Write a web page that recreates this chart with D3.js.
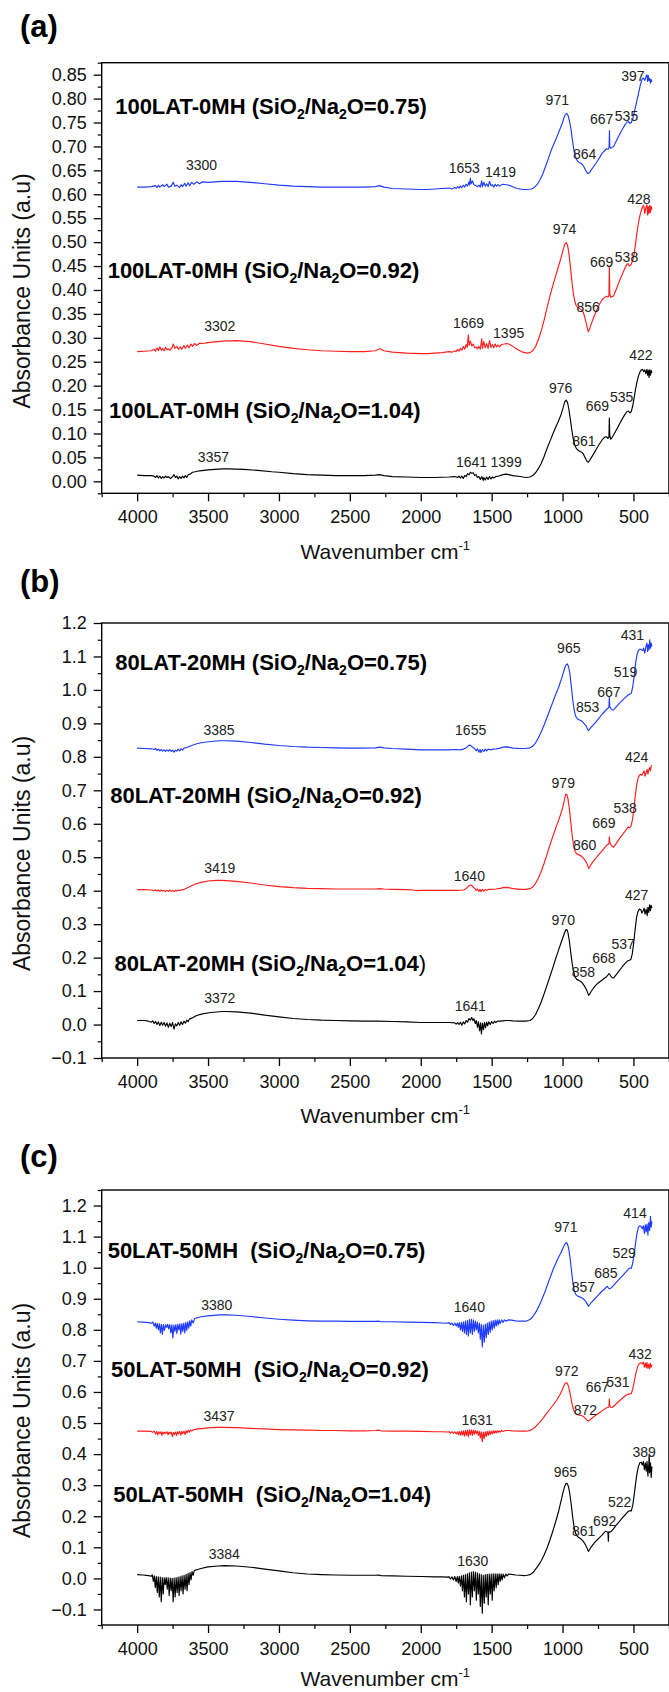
<!DOCTYPE html>
<html><head><meta charset="utf-8">
<script src="https://cdn.jsdelivr.net/npm/d3@7"></script>
<style>body{margin:0;background:#fff}svg{display:block}text{font-family:"Liberation Sans",Arial,sans-serif}</style>
</head><body><svg id="c" width="669" height="1692"></svg>
<script>
// ---------------- DATA ----------------
const xTickLabels = [4000,3500,3000,2500,2000,1500,1000,500];
const yTicksA = [0.00,0.05,0.10,0.15,0.20,0.25,0.30,0.35,0.40,0.45,0.50,0.55,0.60,0.65,0.70,0.75,0.80,0.85];
const yTicksB = [-0.1,0.0,0.1,0.2,0.3,0.4,0.5,0.6,0.7,0.8,0.9,1.0,1.1,1.2];
const yTicksC = [-0.1,0.0,0.1,0.2,0.3,0.4,0.5,0.6,0.7,0.8,0.9,1.0,1.1,1.2];
const panelNames = ["(a)","(b)","(c)"];
const sampleNames = ["100LAT-0MH ","80LAT-20MH ","50LAT-50MH  "];
const ratios = ["0.75","0.92","1.04"];

// Panel (a) spectra [wavenumber, absorbance]
const a075 = [[4000,0.615],[3950,0.615],[3900,0.616],[3870,0.618],[3860,0.614],[3850,0.619],[3840,0.615],[3820,0.620],[3810,0.616],[3790,0.621],[3780,0.615],[3760,0.617],[3745,0.625],[3735,0.617],[3720,0.619],[3700,0.614],[3690,0.620],[3680,0.616],[3665,0.623],[3655,0.617],[3640,0.624],[3630,0.618],[3615,0.625],[3600,0.621],[3580,0.626],[3560,0.622],[3540,0.626],[3500,0.625],[3400,0.627],[3300,0.627],[3200,0.625],[3100,0.622],[3000,0.619],[2900,0.617],[2800,0.616],[2700,0.615],[2600,0.615],[2500,0.615],[2400,0.615],[2320,0.616],[2290,0.618],[2260,0.615],[2200,0.612],[2100,0.611],[2000,0.610],[1950,0.610],[1900,0.611],[1850,0.612],[1800,0.613],[1780,0.611],[1760,0.614],[1750,0.612],[1740,0.616],[1730,0.613],[1720,0.617],[1710,0.614],[1700,0.619],[1690,0.615],[1680,0.621],[1670,0.617],[1660,0.626],[1655,0.619],[1650,0.634],[1645,0.622],[1635,0.628],[1625,0.620],[1610,0.618],[1600,0.616],[1590,0.619],[1580,0.615],[1570,0.628],[1565,0.616],[1555,0.625],[1545,0.617],[1535,0.622],[1525,0.616],[1515,0.627],[1505,0.618],[1495,0.620],[1485,0.615],[1475,0.621],[1465,0.617],[1455,0.620],[1445,0.617],[1430,0.620],[1419,0.621],[1400,0.620],[1380,0.619],[1360,0.617],[1340,0.614],[1320,0.612],[1300,0.611],[1280,0.610],[1250,0.610],[1220,0.611],[1200,0.614],[1180,0.620],[1160,0.630],[1140,0.642],[1120,0.658],[1100,0.675],[1080,0.692],[1060,0.706],[1040,0.720],[1020,0.735],[1000,0.750],[990,0.760],[980,0.767],[971,0.769],[960,0.764],[950,0.752],[940,0.735],[930,0.712],[920,0.693],[910,0.680],[900,0.672],[890,0.668],[880,0.666],[870,0.665],[860,0.662],[850,0.658],[840,0.652],[830,0.646],[820,0.643],[810,0.645],[800,0.650],[780,0.658],[760,0.667],[740,0.676],[720,0.686],[700,0.692],[690,0.695],[680,0.694],[672,0.697],[669,0.733],[667,0.700],[660,0.696],[650,0.698],[640,0.700],[620,0.712],[600,0.724],[580,0.735],[560,0.745],[545,0.751],[535,0.752],[525,0.748],[515,0.750],[505,0.758],[495,0.770],[480,0.790],[465,0.810],[450,0.830],[440,0.840],[430,0.843],[420,0.838],[412,0.845],[405,0.850],[400,0.836],[395,0.848],[390,0.838],[385,0.842],[380,0.832],[375,0.840],[370,0.835]];
const a092 = [[4000,0.271],[3950,0.272],[3900,0.273],[3880,0.276],[3870,0.272],[3860,0.279],[3850,0.273],[3840,0.281],[3830,0.274],[3820,0.278],[3810,0.273],[3800,0.280],[3790,0.275],[3780,0.277],[3770,0.274],[3755,0.279],[3745,0.287],[3735,0.278],[3720,0.282],[3710,0.276],[3695,0.281],[3685,0.276],[3670,0.284],[3660,0.278],[3645,0.285],[3635,0.279],[3620,0.287],[3610,0.282],[3595,0.288],[3580,0.284],[3560,0.289],[3540,0.288],[3500,0.290],[3400,0.293],[3302,0.294],[3200,0.292],[3100,0.287],[3000,0.282],[2900,0.278],[2800,0.275],[2700,0.273],[2600,0.272],[2500,0.271],[2400,0.271],[2320,0.273],[2290,0.277],[2260,0.273],[2200,0.270],[2100,0.268],[2000,0.267],[1950,0.267],[1900,0.268],[1850,0.269],[1800,0.271],[1780,0.270],[1760,0.273],[1750,0.271],[1740,0.276],[1730,0.272],[1720,0.278],[1710,0.274],[1700,0.282],[1690,0.276],[1680,0.286],[1672,0.280],[1665,0.306],[1658,0.284],[1650,0.293],[1640,0.283],[1630,0.287],[1620,0.279],[1610,0.281],[1600,0.277],[1590,0.282],[1580,0.276],[1570,0.298],[1565,0.278],[1555,0.292],[1545,0.279],[1535,0.288],[1525,0.278],[1515,0.294],[1505,0.280],[1495,0.286],[1485,0.279],[1475,0.287],[1465,0.281],[1455,0.285],[1445,0.281],[1430,0.286],[1410,0.287],[1395,0.288],[1380,0.287],[1360,0.284],[1340,0.280],[1320,0.276],[1300,0.273],[1280,0.270],[1250,0.268],[1230,0.269],[1210,0.273],[1190,0.282],[1170,0.297],[1150,0.315],[1130,0.337],[1110,0.362],[1090,0.386],[1070,0.408],[1050,0.428],[1030,0.448],[1010,0.468],[995,0.485],[985,0.495],[975,0.499],[965,0.494],[955,0.476],[945,0.450],[935,0.420],[925,0.395],[915,0.378],[905,0.368],[895,0.364],[880,0.361],[865,0.358],[855,0.354],[845,0.345],[835,0.333],[825,0.320],[818,0.313],[810,0.318],[800,0.327],[780,0.343],[760,0.357],[740,0.370],[720,0.380],[700,0.385],[690,0.387],[680,0.385],[673,0.388],[670,0.450],[667,0.392],[660,0.385],[650,0.386],[640,0.388],[620,0.402],[600,0.418],[580,0.432],[560,0.446],[545,0.454],[538,0.455],[528,0.450],[518,0.452],[505,0.462],[495,0.475],[485,0.497],[475,0.520],[465,0.540],[455,0.555],[445,0.566],[435,0.574],[428,0.577],[420,0.560],[413,0.572],[405,0.578],[400,0.557],[395,0.574],[390,0.560],[385,0.577],[380,0.562],[375,0.575],[370,0.568]];
const a104 = [[4000,0.013],[3950,0.012],[3900,0.012],[3880,0.011],[3870,0.008],[3860,0.012],[3850,0.007],[3840,0.011],[3830,0.006],[3820,0.010],[3810,0.007],[3800,0.011],[3790,0.008],[3780,0.010],[3765,0.006],[3750,0.010],[3740,0.014],[3730,0.008],[3720,0.011],[3710,0.005],[3700,0.010],[3690,0.006],[3680,0.011],[3670,0.007],[3660,0.012],[3650,0.008],[3640,0.014],[3625,0.015],[3610,0.019],[3590,0.020],[3560,0.022],[3500,0.024],[3400,0.026],[3357,0.026],[3250,0.025],[3150,0.023],[3050,0.020],[3000,0.019],[2900,0.016],[2800,0.014],[2700,0.013],[2600,0.012],[2500,0.012],[2400,0.012],[2320,0.013],[2290,0.014],[2260,0.012],[2200,0.010],[2100,0.009],[2000,0.008],[1900,0.008],[1800,0.009],[1760,0.010],[1740,0.008],[1730,0.011],[1720,0.007],[1710,0.011],[1700,0.006],[1690,0.012],[1680,0.010],[1670,0.016],[1660,0.014],[1650,0.019],[1641,0.017],[1630,0.018],[1620,0.012],[1610,0.014],[1600,0.008],[1590,0.010],[1580,0.004],[1570,0.010],[1560,0.002],[1555,0.008],[1545,0.003],[1535,0.009],[1525,0.004],[1515,0.010],[1505,0.005],[1495,0.009],[1485,0.007],[1470,0.010],[1450,0.011],[1420,0.014],[1399,0.015],[1380,0.014],[1350,0.012],[1300,0.010],[1260,0.008],[1230,0.009],[1210,0.012],[1190,0.018],[1170,0.027],[1150,0.038],[1130,0.052],[1110,0.068],[1090,0.083],[1070,0.098],[1050,0.112],[1030,0.125],[1010,0.140],[995,0.155],[985,0.166],[975,0.170],[965,0.165],[955,0.150],[945,0.130],[935,0.108],[925,0.090],[915,0.077],[905,0.070],[895,0.066],[880,0.063],[865,0.061],[855,0.058],[845,0.052],[835,0.046],[825,0.041],[818,0.040],[810,0.043],[800,0.048],[780,0.058],[760,0.068],[740,0.078],[720,0.087],[700,0.093],[690,0.093],[680,0.090],[673,0.092],[670,0.132],[667,0.096],[660,0.088],[650,0.092],[640,0.097],[620,0.108],[600,0.119],[580,0.130],[560,0.140],[545,0.146],[535,0.147],[525,0.143],[515,0.146],[505,0.158],[495,0.175],[485,0.193],[475,0.208],[465,0.220],[455,0.228],[445,0.233],[435,0.234],[428,0.229],[420,0.233],[413,0.225],[405,0.234],[400,0.222],[395,0.232],[390,0.217],[385,0.233],[380,0.222],[375,0.232],[370,0.226]];

// Panel (b) spectra
const b075 = [[4000,0.826],[3950,0.825],[3900,0.824],[3880,0.822],[3870,0.825],[3860,0.819],[3850,0.823],[3840,0.818],[3830,0.822],[3820,0.817],[3810,0.821],[3800,0.816],[3790,0.821],[3780,0.817],[3770,0.822],[3760,0.816],[3750,0.820],[3740,0.814],[3730,0.820],[3720,0.817],[3710,0.823],[3700,0.818],[3690,0.824],[3680,0.820],[3670,0.826],[3650,0.828],[3620,0.833],[3580,0.839],[3540,0.843],[3480,0.846],[3420,0.848],[3385,0.848],[3300,0.847],[3200,0.843],[3100,0.838],[3000,0.834],[2900,0.831],[2800,0.829],[2700,0.828],[2600,0.827],[2500,0.826],[2400,0.826],[2320,0.827],[2290,0.829],[2260,0.827],[2200,0.825],[2100,0.823],[2000,0.821],[1900,0.821],[1800,0.821],[1750,0.822],[1720,0.821],[1700,0.823],[1680,0.827],[1665,0.833],[1655,0.835],[1645,0.833],[1630,0.827],[1620,0.825],[1610,0.818],[1600,0.824],[1590,0.814],[1582,0.822],[1575,0.813],[1565,0.822],[1555,0.816],[1545,0.823],[1535,0.818],[1525,0.823],[1510,0.821],[1490,0.823],[1470,0.824],[1440,0.826],[1420,0.829],[1400,0.830],[1380,0.829],[1350,0.826],[1300,0.825],[1260,0.825],[1230,0.827],[1210,0.832],[1190,0.842],[1170,0.857],[1150,0.875],[1130,0.895],[1110,0.917],[1090,0.940],[1070,0.962],[1050,0.985],[1030,1.005],[1010,1.030],[995,1.050],[985,1.065],[975,1.075],[967,1.078],[958,1.070],[948,1.048],[938,1.010],[928,0.970],[918,0.940],[908,0.922],[895,0.913],[880,0.910],[865,0.907],[855,0.903],[845,0.898],[835,0.893],[825,0.884],[818,0.878],[810,0.882],[800,0.888],[780,0.897],[760,0.907],[740,0.917],[720,0.928],[700,0.937],[690,0.942],[680,0.945],[673,0.948],[670,0.978],[667,0.950],[660,0.945],[650,0.940],[640,0.940],[620,0.950],[600,0.960],[580,0.968],[560,0.976],[540,0.984],[525,0.988],[515,0.990],[505,1.010],[495,1.040],[485,1.080],[475,1.105],[465,1.118],[455,1.122],[445,1.120],[435,1.118],[428,1.125],[420,1.110],[413,1.128],[405,1.140],[400,1.115],[395,1.135],[390,1.120],[385,1.150],[380,1.125],[375,1.140],[370,1.130]];
const b092 = [[4000,0.403],[3950,0.403],[3900,0.402],[3880,0.400],[3870,0.403],[3860,0.399],[3850,0.402],[3840,0.398],[3830,0.402],[3820,0.399],[3810,0.401],[3800,0.397],[3790,0.401],[3780,0.398],[3770,0.402],[3760,0.398],[3750,0.401],[3740,0.397],[3730,0.401],[3720,0.399],[3710,0.402],[3700,0.400],[3690,0.403],[3680,0.402],[3660,0.406],[3630,0.412],[3590,0.420],[3550,0.425],[3500,0.429],[3440,0.431],[3400,0.431],[3300,0.428],[3200,0.423],[3100,0.417],[3000,0.412],[2900,0.409],[2800,0.407],[2700,0.406],[2600,0.405],[2500,0.405],[2400,0.405],[2320,0.405],[2290,0.406],[2260,0.405],[2200,0.404],[2100,0.403],[2050,0.402],[2030,0.400],[2000,0.401],[1900,0.401],[1800,0.401],[1750,0.401],[1700,0.402],[1680,0.406],[1665,0.413],[1650,0.417],[1640,0.416],[1630,0.411],[1620,0.407],[1610,0.401],[1600,0.405],[1590,0.398],[1582,0.404],[1575,0.397],[1565,0.404],[1555,0.399],[1545,0.404],[1535,0.401],[1520,0.404],[1500,0.404],[1470,0.405],[1440,0.407],[1420,0.409],[1400,0.410],[1380,0.409],[1350,0.406],[1300,0.404],[1260,0.404],[1230,0.406],[1210,0.411],[1190,0.422],[1170,0.438],[1150,0.458],[1130,0.482],[1110,0.508],[1090,0.535],[1070,0.560],[1050,0.585],[1030,0.608],[1010,0.632],[995,0.655],[985,0.675],[978,0.688],[970,0.688],[962,0.675],[952,0.645],[942,0.605],[932,0.565],[922,0.535],[912,0.518],[900,0.510],[885,0.507],[870,0.504],[860,0.500],[850,0.496],[840,0.490],[830,0.483],[822,0.474],[816,0.466],[810,0.470],[800,0.478],[780,0.489],[760,0.500],[740,0.510],[720,0.520],[700,0.530],[690,0.535],[680,0.538],[673,0.540],[670,0.561],[667,0.545],[660,0.538],[650,0.533],[640,0.530],[620,0.542],[600,0.555],[580,0.566],[560,0.577],[545,0.586],[538,0.590],[528,0.588],[518,0.592],[508,0.610],[498,0.640],[488,0.680],[478,0.715],[468,0.735],[458,0.745],[448,0.748],[440,0.745],[432,0.752],[425,0.758],[418,0.742],[410,0.755],[403,0.762],[398,0.748],[392,0.760],[386,0.768],[380,0.758],[375,0.772],[370,0.775]];
const b104 = [[4000,0.012],[3950,0.012],[3920,0.010],[3900,0.007],[3890,0.011],[3880,0.003],[3870,0.009],[3860,0.000],[3850,0.008],[3840,-0.003],[3830,0.007],[3820,-0.002],[3810,0.006],[3800,-0.005],[3790,0.005],[3780,-0.008],[3770,0.004],[3760,-0.006],[3750,0.006],[3740,-0.014],[3730,0.002],[3720,-0.004],[3710,0.006],[3700,-0.002],[3690,0.008],[3680,0.000],[3670,0.010],[3660,0.004],[3650,0.013],[3640,0.009],[3630,0.017],[3610,0.020],[3580,0.027],[3540,0.032],[3480,0.036],[3400,0.039],[3372,0.039],[3300,0.038],[3200,0.034],[3100,0.028],[3000,0.023],[2900,0.018],[2800,0.015],[2700,0.013],[2600,0.012],[2500,0.011],[2400,0.010],[2300,0.010],[2200,0.009],[2100,0.008],[2000,0.006],[1900,0.006],[1800,0.006],[1760,0.005],[1750,0.001],[1740,0.006],[1730,0.000],[1720,0.007],[1710,-0.002],[1700,0.008],[1690,0.002],[1680,0.012],[1670,0.007],[1660,0.018],[1650,0.013],[1641,0.021],[1632,0.012],[1625,0.017],[1615,0.003],[1608,0.012],[1600,-0.008],[1593,0.008],[1585,-0.018],[1578,0.005],[1572,-0.028],[1565,0.004],[1558,-0.015],[1550,0.006],[1543,-0.010],[1535,0.007],[1528,-0.004],[1520,0.008],[1510,0.000],[1500,0.009],[1490,0.003],[1480,0.010],[1470,0.006],[1460,0.010],[1440,0.010],[1420,0.011],[1400,0.012],[1380,0.012],[1350,0.011],[1300,0.010],[1260,0.010],[1230,0.012],[1210,0.018],[1190,0.030],[1170,0.048],[1150,0.068],[1130,0.092],[1110,0.117],[1090,0.142],[1070,0.168],[1050,0.195],[1030,0.220],[1010,0.245],[995,0.263],[985,0.275],[977,0.283],[970,0.284],[962,0.275],[952,0.250],[942,0.215],[932,0.182],[922,0.157],[912,0.142],[900,0.135],[885,0.132],[870,0.128],[860,0.124],[850,0.118],[840,0.111],[830,0.103],[822,0.094],[816,0.087],[810,0.090],[800,0.098],[780,0.110],[760,0.120],[740,0.127],[720,0.133],[700,0.140],[690,0.143],[680,0.148],[673,0.152],[668,0.151],[660,0.145],[650,0.140],[640,0.139],[620,0.150],[600,0.161],[580,0.172],[560,0.182],[545,0.189],[537,0.191],[528,0.192],[518,0.195],[508,0.212],[498,0.245],[488,0.285],[478,0.320],[468,0.338],[458,0.345],[448,0.343],[440,0.333],[432,0.340],[425,0.348],[418,0.330],[410,0.345],[403,0.325],[398,0.350],[392,0.335],[386,0.358],[380,0.340],[375,0.356],[370,0.348]];

// Panel (c) spectra
const c075 = [[4000,0.826],[3960,0.825],[3920,0.823],[3900,0.821],[3890,0.825],[3880,0.812],[3872,0.822],[3865,0.805],[3858,0.821],[3850,0.800],[3843,0.819],[3836,0.790],[3829,0.818],[3822,0.785],[3815,0.817],[3808,0.798],[3800,0.816],[3792,0.808],[3785,0.818],[3778,0.803],[3770,0.817],[3762,0.790],[3755,0.816],[3748,0.774],[3741,0.815],[3734,0.795],[3727,0.817],[3720,0.788],[3713,0.818],[3706,0.800],[3699,0.819],[3692,0.786],[3685,0.820],[3678,0.795],[3671,0.822],[3664,0.790],[3657,0.824],[3650,0.798],[3643,0.826],[3636,0.805],[3629,0.829],[3622,0.812],[3615,0.832],[3605,0.822],[3595,0.836],[3580,0.838],[3550,0.842],[3500,0.845],[3420,0.848],[3380,0.848],[3300,0.847],[3200,0.843],[3100,0.838],[3000,0.834],[2900,0.831],[2800,0.829],[2700,0.828],[2600,0.828],[2500,0.827],[2400,0.827],[2320,0.827],[2300,0.828],[2280,0.826],[2200,0.826],[2100,0.825],[2000,0.824],[1900,0.823],[1850,0.822],[1820,0.821],[1800,0.823],[1790,0.817],[1780,0.822],[1770,0.814],[1760,0.822],[1750,0.812],[1742,0.822],[1735,0.808],[1728,0.823],[1720,0.800],[1713,0.824],[1706,0.795],[1699,0.826],[1692,0.790],[1685,0.828],[1678,0.785],[1671,0.830],[1664,0.780],[1657,0.833],[1650,0.790],[1643,0.834],[1636,0.785],[1629,0.832],[1622,0.795],[1615,0.828],[1608,0.800],[1601,0.825],[1594,0.790],[1587,0.822],[1580,0.770],[1573,0.818],[1566,0.745],[1559,0.815],[1552,0.760],[1545,0.818],[1538,0.775],[1531,0.822],[1524,0.785],[1517,0.825],[1510,0.792],[1503,0.828],[1496,0.800],[1489,0.830],[1482,0.805],[1475,0.831],[1468,0.812],[1461,0.832],[1454,0.815],[1447,0.832],[1440,0.820],[1430,0.832],[1420,0.824],[1410,0.832],[1400,0.828],[1380,0.832],[1360,0.831],[1330,0.829],[1300,0.828],[1270,0.828],[1250,0.829],[1230,0.833],[1210,0.842],[1190,0.856],[1170,0.873],[1150,0.893],[1130,0.915],[1110,0.940],[1090,0.965],[1070,0.990],[1050,1.012],[1030,1.032],[1010,1.050],[995,1.065],[985,1.075],[975,1.081],[967,1.078],[958,1.065],[948,1.035],[938,0.995],[928,0.955],[918,0.928],[908,0.915],[895,0.909],[880,0.906],[865,0.903],[855,0.900],[845,0.896],[835,0.890],[825,0.882],[818,0.876],[810,0.880],[800,0.887],[780,0.896],[760,0.906],[740,0.916],[720,0.925],[700,0.933],[690,0.938],[685,0.940],[678,0.936],[670,0.932],[660,0.934],[650,0.938],[630,0.948],[610,0.958],[590,0.968],[570,0.978],[550,0.988],[535,0.996],[525,0.999],[515,0.998],[505,1.015],[495,1.045],[485,1.080],[475,1.110],[465,1.130],[455,1.135],[445,1.132],[438,1.125],[430,1.135],[423,1.110],[416,1.138],[410,1.115],[404,1.140],[398,1.105],[392,1.145],[386,1.120],[380,1.165],[375,1.130],[370,1.150]];
const c092 = [[4000,0.474],[3950,0.474],[3900,0.473],[3890,0.470],[3880,0.474],[3870,0.465],[3862,0.473],[3855,0.462],[3848,0.472],[3840,0.466],[3833,0.472],[3826,0.460],[3819,0.471],[3812,0.465],[3805,0.471],[3798,0.467],[3790,0.472],[3782,0.462],[3775,0.471],[3768,0.466],[3760,0.471],[3752,0.456],[3745,0.470],[3738,0.463],[3730,0.471],[3722,0.460],[3715,0.472],[3708,0.465],[3700,0.473],[3692,0.461],[3685,0.473],[3678,0.466],[3670,0.474],[3662,0.463],[3655,0.475],[3648,0.468],[3640,0.477],[3632,0.470],[3625,0.478],[3615,0.474],[3600,0.479],[3570,0.481],[3530,0.483],[3480,0.485],[3437,0.486],[3380,0.486],[3300,0.485],[3200,0.483],[3100,0.481],[3000,0.479],[2900,0.478],[2800,0.477],[2700,0.476],[2600,0.476],[2500,0.475],[2400,0.475],[2320,0.476],[2300,0.477],[2280,0.475],[2200,0.474],[2100,0.474],[2000,0.473],[1900,0.472],[1850,0.472],[1820,0.471],[1800,0.472],[1790,0.468],[1780,0.472],[1770,0.467],[1760,0.472],[1750,0.465],[1742,0.472],[1735,0.463],[1728,0.473],[1720,0.460],[1713,0.474],[1706,0.462],[1699,0.475],[1692,0.458],[1685,0.476],[1678,0.460],[1671,0.477],[1664,0.456],[1657,0.478],[1650,0.462],[1643,0.478],[1636,0.460],[1629,0.477],[1622,0.464],[1615,0.476],[1608,0.466],[1601,0.474],[1594,0.460],[1587,0.473],[1580,0.452],[1573,0.472],[1566,0.440],[1559,0.471],[1552,0.450],[1545,0.472],[1538,0.457],[1531,0.473],[1524,0.460],[1517,0.474],[1510,0.463],[1503,0.474],[1496,0.465],[1489,0.475],[1482,0.467],[1475,0.475],[1468,0.468],[1461,0.475],[1454,0.470],[1447,0.475],[1440,0.471],[1430,0.476],[1420,0.473],[1400,0.476],[1380,0.476],[1350,0.475],[1300,0.474],[1260,0.474],[1240,0.475],[1220,0.478],[1200,0.484],[1180,0.493],[1160,0.503],[1140,0.514],[1120,0.526],[1100,0.538],[1080,0.550],[1060,0.562],[1040,0.575],[1020,0.590],[1005,0.604],[995,0.615],[985,0.625],[975,0.630],[967,0.628],[958,0.618],[948,0.598],[938,0.573],[928,0.552],[918,0.538],[905,0.530],[890,0.526],[875,0.525],[860,0.523],[850,0.520],[840,0.515],[830,0.510],[820,0.507],[812,0.508],[800,0.513],[780,0.520],[760,0.527],[740,0.533],[720,0.540],[700,0.546],[690,0.549],[680,0.550],[673,0.552],[670,0.578],[667,0.556],[660,0.551],[650,0.550],[630,0.558],[610,0.567],[590,0.575],[570,0.583],[550,0.590],[535,0.593],[525,0.594],[515,0.595],[505,0.610],[495,0.632],[485,0.655],[475,0.675],[465,0.688],[455,0.693],[445,0.694],[438,0.690],[430,0.696],[423,0.680],[416,0.693],[410,0.678],[404,0.695],[398,0.676],[392,0.690],[386,0.675],[380,0.692],[375,0.680],[370,0.688]];
const c104 = [[4000,0.012],[3960,0.011],[3920,0.009],[3900,0.007],[3893,0.011],[3886,-0.010],[3879,0.008],[3872,-0.030],[3865,0.006],[3858,-0.045],[3851,0.005],[3844,-0.060],[3837,0.004],[3830,-0.075],[3823,0.003],[3816,-0.050],[3809,0.002],[3802,-0.020],[3795,0.003],[3788,-0.035],[3781,0.002],[3774,-0.055],[3767,0.001],[3760,-0.040],[3753,0.000],[3746,-0.075],[3739,0.001],[3732,-0.060],[3725,0.003],[3718,-0.045],[3711,0.004],[3704,-0.055],[3697,0.006],[3690,-0.040],[3683,0.008],[3676,-0.050],[3669,0.010],[3662,-0.035],[3655,0.013],[3648,-0.040],[3641,0.016],[3634,-0.020],[3627,0.019],[3620,-0.005],[3613,0.022],[3605,0.010],[3597,0.025],[3580,0.028],[3550,0.032],[3500,0.037],[3430,0.040],[3384,0.041],[3300,0.040],[3200,0.036],[3100,0.030],[3000,0.024],[2900,0.018],[2800,0.014],[2700,0.012],[2600,0.011],[2500,0.010],[2400,0.010],[2320,0.010],[2300,0.011],[2280,0.009],[2200,0.008],[2100,0.007],[2000,0.006],[1900,0.005],[1850,0.005],[1820,0.004],[1800,0.005],[1790,-0.002],[1780,0.005],[1770,-0.005],[1760,0.006],[1750,-0.010],[1742,0.006],[1735,-0.015],[1728,0.007],[1720,-0.025],[1713,0.008],[1706,-0.040],[1699,0.010],[1692,-0.060],[1685,0.012],[1678,-0.075],[1671,0.015],[1664,-0.050],[1657,0.018],[1650,-0.085],[1643,0.020],[1636,-0.060],[1629,0.022],[1622,-0.040],[1615,0.020],[1608,-0.070],[1601,0.018],[1594,-0.050],[1587,0.015],[1580,-0.090],[1573,0.012],[1566,-0.112],[1559,0.010],[1552,-0.080],[1545,0.012],[1538,-0.060],[1531,0.013],[1524,-0.085],[1517,0.014],[1510,-0.050],[1503,0.014],[1496,-0.070],[1489,0.015],[1482,-0.040],[1475,0.015],[1468,-0.030],[1461,0.015],[1454,-0.020],[1447,0.015],[1440,-0.010],[1433,0.014],[1426,-0.005],[1419,0.014],[1410,0.002],[1400,0.014],[1390,0.008],[1380,0.014],[1360,0.013],[1330,0.011],[1300,0.010],[1270,0.009],[1250,0.010],[1230,0.012],[1210,0.018],[1190,0.030],[1170,0.042],[1150,0.057],[1130,0.075],[1110,0.097],[1090,0.122],[1070,0.150],[1050,0.180],[1030,0.212],[1010,0.250],[995,0.280],[985,0.296],[975,0.306],[967,0.305],[958,0.295],[948,0.270],[938,0.235],[928,0.195],[918,0.163],[908,0.145],[895,0.135],[880,0.130],[865,0.125],[855,0.120],[845,0.113],[835,0.105],[825,0.095],[818,0.087],[810,0.092],[800,0.100],[780,0.112],[760,0.122],[740,0.131],[720,0.140],[705,0.148],[695,0.152],[688,0.150],[680,0.148],[677,0.120],[674,0.150],[665,0.149],[655,0.152],[640,0.160],[620,0.172],[600,0.183],[580,0.194],[560,0.204],[545,0.212],[535,0.216],[525,0.218],[515,0.217],[505,0.235],[495,0.268],[485,0.305],[475,0.338],[465,0.360],[455,0.372],[445,0.374],[438,0.365],[430,0.376],[423,0.350],[416,0.372],[410,0.345],[404,0.376],[398,0.330],[392,0.365],[389,0.400],[386,0.340],[380,0.372],[375,0.325],[370,0.360]];

// Peak annotations: [label, wavenumber anchor, absorbance anchor]
const peaksA075 = [["3300",3546,0.650],["1653",1693,0.644],["1419",1437,0.636],["971",1037,0.787],["864",844,0.673],["667",724,0.746],["535",549,0.753],["397",504,0.837]];
const peaksA092 = [["3302",3417,0.315],["1669",1663,0.320],["1395",1380,0.300],["974",986,0.518],["856",820,0.354],["669",724,0.448],["538",549,0.459],["428",462,0.580]];
const peaksA104 = [["3357",3462,0.040],["1641",1642,0.031],["1399",1398,0.031],["976",1013,0.184],["861",850,0.073],["669",754,0.146],["535",583,0.165],["422",447,0.254]];
const peaksB075 = [["3385",3423,0.866],["1655",1648,0.866],["965",956,1.110],["853",823,0.935],["667",673,0.980],["519",556,1.038],["431",507,1.150]];
const peaksB092 = [["3419",3417,0.453],["1640",1657,0.428],["979",995,0.706],["860",844,0.521],["669",709,0.586],["538",559,0.633],["424",477,0.786]];
const peaksB104 = [["3372",3417,0.064],["1641",1651,0.039],["970",995,0.296],["858",853,0.142],["668",709,0.184],["537",573,0.225],["427",477,0.373]];
const peaksC075 = [["3380",3438,0.864],["1640",1657,0.858],["971",977,1.116],["857",853,0.923],["685",694,0.966],["529",565,1.030],["414",489,1.159]];
const peaksC092 = [["3437",3423,0.505],["1631",1602,0.495],["972",970,0.651],["872",839,0.525],["667",754,0.600],["531",610,0.616],["432",453,0.705]];
const peaksC104 = [["3384",3386,0.063],["1630",1633,0.039],["965",980,0.326],["861",851,0.135],["692",703,0.170],["522",597,0.229],["389",424,0.390]];

// ---------------- LAYOUT ----------------
const colors = {"0.75":"#1f3bff","0.92":"#ff1e1e","1.04":"#000000"};
const panels = [
  {name:panelNames[0], sample:sampleNames[0], top:62.7, bottom:493.3, yDomain:[-0.025,0.875], yTicks:yTicksA, minorStep:0.025, fmt:".2f", titleDy:66,
   series:[{r:ratios[0],data:a075,peaks:peaksA075,lab:[4155,0.767]},{r:ratios[1],data:a092,peaks:peaksA092,lab:[4208,0.426]},{r:ratios[2],data:a104,peaks:peaksA104,lab:[4199,0.132]}]},
  {name:panelNames[1], sample:sampleNames[1], top:623, bottom:1058, yDomain:[-0.1,1.2], yTicks:yTicksB, minorStep:0.05, fmt:".1f", titleDy:65,
   series:[{r:ratios[0],data:b075,peaks:peaksB075,lab:[4154,1.060]},{r:ratios[1],data:b092,peaks:peaksB092,lab:[4190,0.661]},{r:ratios[2],data:b104,peaks:peaksB104,lab:[4160,0.160],thinParen:true}]},
  {name:panelNames[2], sample:sampleNames[2], top:1190, bottom:1625, yDomain:[-0.15,1.25], yTicks:yTicksC, minorStep:0.05, fmt:".1f", titleDy:61,
   series:[{r:ratios[0],data:c075,peaks:peaksC075,lab:[4208,1.030]},{r:ratios[1],data:c092,peaks:peaksC092,lab:[4184,0.648]},{r:ratios[2],data:c104,peaks:peaksC104,lab:[4169,0.245]}]}
];
const panelLabelY = [37, 592, 1167];

const svg = d3.select("#c");
const x = d3.scaleLinear().domain([4250,250]).range([101.7,668.9]);
const xMinor = d3.range(4250,200,-250).filter(v => v % 500 !== 0);

panels.forEach((p, i) => {
  const y = d3.scaleLinear().domain(p.yDomain).range([p.bottom, p.top]);
  const g = svg.append("g");

  // panel letter
  g.append("text").attr("x",20).attr("y",panelLabelY[i]).attr("font-size",31).attr("font-weight","bold").text(p.name);

  // spectra
  const line = d3.line().x(d => x(d[0])).y(d => y(d[1]));
  p.series.forEach(s => {
    g.append("path").datum(s.data).attr("fill","none").attr("stroke",colors[s.r])
      .attr("stroke-width",1.15).attr("stroke-linejoin","round").attr("d",line);
    g.selectAll(null).data(s.peaks).enter().append("text")
      .attr("x",d => x(d[1])).attr("y",d => y(d[2])).attr("text-anchor","middle")
      .attr("font-size",14).attr("fill","#222").text(d => d[0]);
    // sample label
    const t = g.append("text").attr("x",x(s.lab[0])).attr("y",y(s.lab[1]))
      .attr("font-size",22).attr("font-weight","bold").style("white-space","pre");
    t.append("tspan").text(p.sample + "(SiO");
    t.append("tspan").attr("font-size",14).attr("dy",5).text("2");
    t.append("tspan").attr("dy",-5).text("/Na");
    t.append("tspan").attr("font-size",14).attr("dy",5).text("2");
    t.append("tspan").attr("dy",-5).text("O=" + s.r + (s.thinParen ? "" : ")"));
    if (s.thinParen) t.append("tspan").attr("font-weight","normal").text(")");
  });

  // frame
  g.append("rect").attr("x",x(4250)).attr("y",p.top).attr("width",x(250)-x(4250)).attr("height",p.bottom-p.top)
    .attr("fill","none").attr("stroke","#000").attr("stroke-width",1.4);

  // y axis
  const yMinor = d3.range(p.yDomain[0], p.yDomain[1] + 1e-6, p.minorStep)
    .filter(v => !p.yTicks.some(t => Math.abs(t - v) < 1e-6));
  const ya = g.append("g").attr("transform",`translate(${x(4250)},0)`)
    .call(d3.axisLeft(y).tickValues(p.yTicks).tickFormat(d3.format(p.fmt)).tickSize(8).tickPadding(7));
  ya.select(".domain").remove();
  ya.selectAll("text").attr("font-size",18).attr("font-family","Liberation Sans, Arial, sans-serif").attr("fill","#111");
  ya.selectAll("line").attr("stroke-width",1.3);
  const ym = g.append("g").attr("transform",`translate(${x(4250)},0)`)
    .call(d3.axisLeft(y).tickValues(yMinor).tickFormat("").tickSize(4));
  ym.select(".domain").remove();
  ym.selectAll("line").attr("stroke-width",1.2);

  // x axis
  const xa = g.append("g").attr("transform",`translate(0,${p.bottom})`)
    .call(d3.axisBottom(x).tickValues(xTickLabels).tickFormat(d3.format("d")).tickSize(8).tickPadding(9));
  xa.select(".domain").remove();
  xa.selectAll("text").attr("font-size",18).attr("font-family","Liberation Sans, Arial, sans-serif").attr("fill","#111");
  xa.selectAll("line").attr("stroke-width",1.3);
  const xm = g.append("g").attr("transform",`translate(0,${p.bottom})`)
    .call(d3.axisBottom(x).tickValues(xMinor).tickFormat("").tickSize(4));
  xm.select(".domain").remove();
  xm.selectAll("line").attr("stroke-width",1.2);

  // x title
  const xt = g.append("text").attr("x",(x(4250)+x(250))/2).attr("y",p.bottom+p.titleDy)
    .attr("text-anchor","middle").attr("font-size",21).attr("fill","#111");
  xt.append("tspan").text("Wavenumber cm");
  xt.append("tspan").attr("font-size",13).attr("dy",-9).text("-1");

  // y title
  const cy = (p.top + p.bottom) / 2 + 13;
  g.append("text").attr("transform",`translate(30,${cy}) rotate(-90)`).attr("text-anchor","middle")
    .attr("font-size",23).attr("fill","#111").text("Absorbance Units (a.u)");
});
</script>
</body></html>
